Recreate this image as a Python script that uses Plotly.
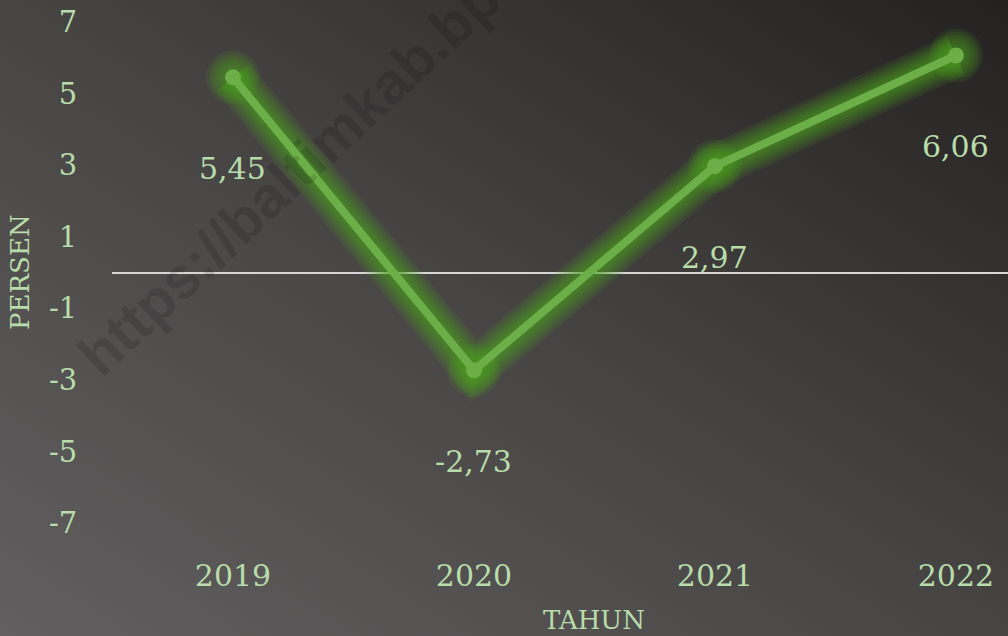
import plotly.graph_objects as go

tahun = [2019, 2020, 2021, 2022]
persen = [5.45, -2.73, 2.97, 6.06]
label = ["5,45", "-2,73", "2,97", "6,06"]
y_ticks = [-7, -5, -3, -1, 1, 3, 5, 7]
y_ticktext = ["-7", "-5", "-3", "-1", "1", "3", "5", "7"]

W, H = 1008, 636
ML, MR, MT, MB = 112, 0, 0, 91
plot_w = W - ML - MR
plot_h = H - MT - MB

teks = "#b8dcaa"
hijau = "#6cae48"
serif = "DejaVu Serif"

# background gradien (svg inline)
svg = (
    "data:image/svg+xml;utf8,"
    "<svg xmlns='http://www.w3.org/2000/svg' width='1008' height='636'>"
    "<defs><linearGradient id='g' x1='0' y1='1' x2='1' y2='0'>"
    "<stop offset='0' stop-color='%23615f5f'/>"
    "<stop offset='0.5' stop-color='%23474444'/>"
    "<stop offset='1' stop-color='%23242121'/>"
    "</linearGradient></defs>"
    "<rect width='1008' height='636' fill='url(%23g)'/></svg>"
)

fig = go.Figure()

# efek glow: beberapa garis lebar transparan
for w in [44, 38, 32, 27, 22, 18, 14]:
    fig.add_trace(go.Scatter(
        x=tahun, y=persen, mode="lines",
        line=dict(color="rgba(78,165,32,0.13)", width=w),
        hoverinfo="skip", showlegend=False
    ))
for s in [54, 48, 42, 36, 30, 24]:
    fig.add_trace(go.Scatter(
        x=tahun, y=persen, mode="markers",
        marker=dict(size=s, color="rgba(78,165,32,0.13)", line=dict(width=0)),
        hoverinfo="skip", showlegend=False
    ))

fig.add_trace(go.Scatter(
    x=tahun, y=persen, mode="lines+markers",
    line=dict(color=hijau, width=8),
    marker=dict(size=16, color=hijau),
    showlegend=False
))

# label data di bawah titik
for x, y, t in zip(tahun, persen, label):
    fig.add_annotation(
        x=x, y=y, text=t, showarrow=False, yshift=-91,
        font=dict(family=serif, size=30, color=teks)
    )

fig.add_annotation(
    x=2020.5, xref="x", y=-75 / plot_h, yref="paper",
    text="TAHUN", showarrow=False, xanchor="center", yanchor="middle",
    font=dict(family=serif, size=26, color=teks)
)
fig.add_annotation(
    x=(20 - ML) / plot_w, xref="paper", y=0.501, yref="paper",
    text="PERSEN", textangle=-90, showarrow=False,
    xanchor="center", yanchor="middle",
    font=dict(family=serif, size=26, color=teks)
)

# watermark
fig.add_annotation(
    x=(357 - ML) / plot_w, xref="paper", y=1 - 112 / plot_h, yref="paper",
    text="<b>https://baltimkab.bps.go.id</b>", textangle=-43, showarrow=False,
    xanchor="center", yanchor="middle",
    font=dict(family="Liberation Sans", size=58, color="rgba(0,0,0,0.13)")
)

fig.add_layout_image(dict(
    source=svg, xref="paper", yref="paper",
    x=-ML / plot_w, y=1 + MT / plot_h,
    sizex=W / plot_w, sizey=H / plot_h,
    xanchor="left", yanchor="top", sizing="stretch", layer="below"
))

fig.update_layout(
    width=W, height=H,
    margin=dict(l=ML, r=MR, t=MT, b=MB),
    paper_bgcolor="#3e3c3c",
    plot_bgcolor="rgba(0,0,0,0)",
)

fig.update_xaxes(
    range=[2018.498, 2022.216],
    tickvals=tahun, ticktext=[str(t) for t in tahun],
    showgrid=False, zeroline=False, showline=False,
    ticks="outside", ticklen=4, tickcolor="rgba(0,0,0,0)",
    tickfont=dict(family=serif, size=30, color=teks)
)
fig.update_yaxes(
    range=[-7.61, 7.61],
    tickvals=y_ticks, ticktext=y_ticktext,
    showgrid=False, showline=False,
    zeroline=True, zerolinecolor="#d6d6d6", zerolinewidth=2,
    ticks="outside", ticklen=28, tickcolor="rgba(0,0,0,0)",
    tickfont=dict(family=serif, size=29, color=teks)
)

fig.write_html(
    "out.html",
    config={"displayModeBar": False},
    post_script="document.body.style.margin='0';"
)
